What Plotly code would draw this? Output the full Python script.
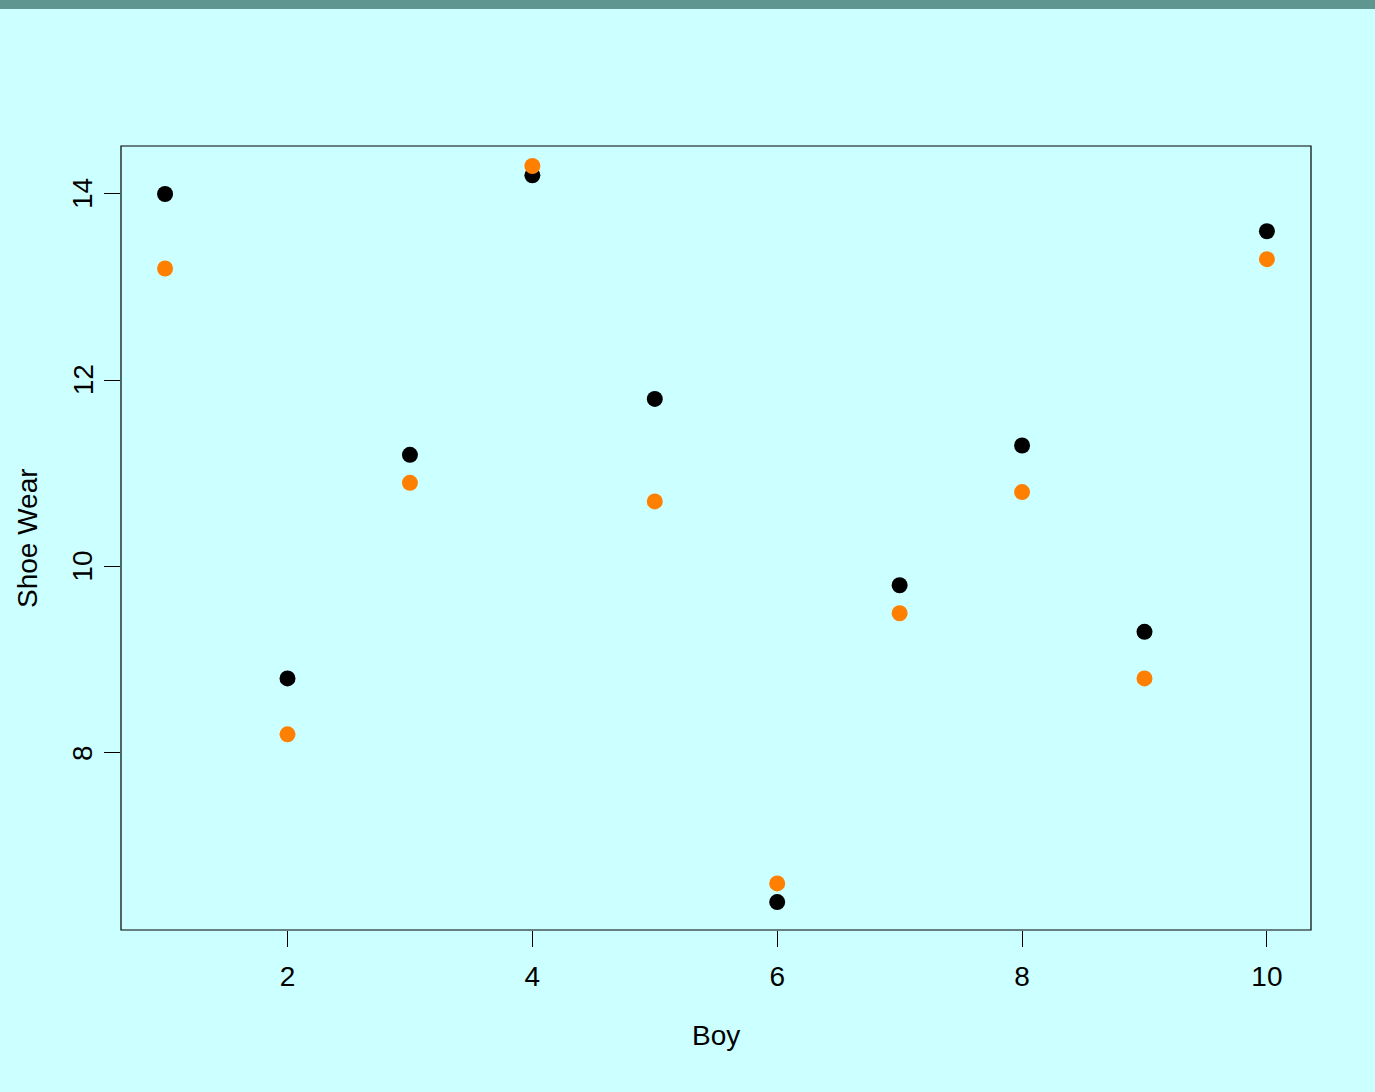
import plotly.graph_objects as go

boys = [1, 2, 3, 4, 5, 6, 7, 8, 9, 10]
wear_b = [14.0, 8.8, 11.2, 14.2, 11.8, 6.4, 9.8, 11.3, 9.3, 13.6]
wear_a = [13.2, 8.2, 10.9, 14.3, 10.7, 6.6, 9.5, 10.8, 8.8, 13.3]
x_ticks = [2, 4, 6, 8, 10]
y_ticks = [8, 10, 12, 14]

W, H = 1375, 1092
L, R, T, B = 121, 64, 146, 162
ph = H - T - B
pw = W - L - R

font = dict(family="Liberation Sans, Arial, sans-serif", size=28, color="black")

fig = go.Figure()
fig.add_trace(go.Scatter(x=boys, y=wear_b, mode="markers",
                         marker=dict(color="black", size=16, line=dict(width=0)),
                         showlegend=False, hoverinfo="skip"))
fig.add_trace(go.Scatter(x=boys, y=wear_a, mode="markers",
                         marker=dict(color="#ff8000", size=16, line=dict(width=0)),
                         showlegend=False, hoverinfo="skip"))

annotations = [
    dict(text="Boy", xref="paper", yref="paper", x=0.5, y=-(1035 - T - ph) / ph,
         showarrow=False, xanchor="center", yanchor="middle", font=font),
    dict(text="Shoe Wear", xref="paper", yref="paper", x=-(L - 27) / pw,
         y=(T + ph - 538) / ph, textangle=-90,
         showarrow=False, xanchor="center", yanchor="middle", font=font),
]
for v in y_ticks:
    annotations.append(dict(text=str(v), xref="paper", yref="y", x=-(L - 83) / pw, y=v,
                            textangle=-90, showarrow=False, xanchor="center",
                            yanchor="middle", font=font))

fig.update_layout(
    width=W, height=H,
    margin=dict(l=L, r=R, t=T, b=B, autoexpand=False),
    paper_bgcolor="#ccffff", plot_bgcolor="#ccffff",
    font=font,
    xaxis=dict(range=[0.64, 10.36], tickvals=x_ticks, ticktext=[str(v) for v in x_ticks],
               ticks="outside", ticklen=16, tickwidth=1, tickcolor="black",
               showgrid=False, zeroline=False, showline=False,
               tickfont=font, ticklabelstandoff=5),
    yaxis=dict(range=[6.1, 14.515], tickvals=y_ticks, showticklabels=False,
               ticks="outside", ticklen=16, tickwidth=1, tickcolor="black",
               showgrid=False, zeroline=False, showline=False),
    shapes=[
        dict(type="rect", xref="paper", yref="paper", x0=0, x1=1, y0=0, y1=1,
             line=dict(color="black", width=1.2), fillcolor="rgba(0,0,0,0)", layer="above"),
        dict(type="rect", xref="paper", yref="paper", x0=-L / pw, x1=1 + R / pw,
             y0=1 + (T - 9) / ph, y1=1 + T / ph + 0.01,
             line=dict(width=0), fillcolor="#5f9690", layer="above"),
    ],
    annotations=annotations,
)

fig.write_html("out.html", config={"displayModeBar": False},
               post_script="document.body.style.margin='0';document.body.style.background='#ccffff';")
